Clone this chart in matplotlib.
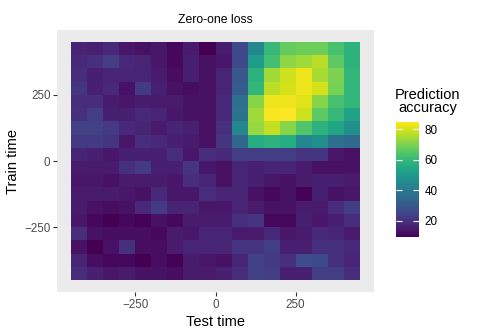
import numpy as np
import matplotlib
matplotlib.use('Agg')
import matplotlib.pyplot as plt

plt.rcParams['font.family'] = ['Liberation Sans', 'DejaVu Sans']

# tile centres (ms)
test_time = [-425, -375, -325, -275, -225, -175, -125, -75, -25,
             25, 75, 125, 175, 225, 275, 325, 375, 425]
train_time = [425, 375, 325, 275, 225, 175, 125, 75, 25,
              -25, -75, -125, -175, -225, -275, -325, -375, -425]

# prediction accuracy, one row per train time (top row first)
accuracy = [
    [17, 16, 18, 14, 13, 14, 11, 15, 9.5, 15, 26, 44, 60, 67, 68, 68, 63, 58],
    [18, 20, 23, 18, 17, 14, 11, 16, 13, 14, 26, 51, 62, 72, 74, 77, 66, 58],
    [19, 16, 17, 17, 17, 15, 12, 16, 13, 17, 30, 58, 74, 79, 83, 75, 70, 59],
    [21, 16, 18, 13, 22, 16, 13, 12, 13, 17, 31, 59, 77, 80, 83, 80, 69, 59],
    [19, 19, 15, 14, 15, 15, 15, 13, 13, 18, 37, 71, 83, 83, 81, 71, 63, 59],
    [20, 23, 16, 16, 18, 17, 14, 13, 13, 18, 38, 74, 84, 84.8, 79, 66, 60, 53],
    [24, 24, 22, 18, 17, 15, 17, 16, 13, 20, 44, 73, 78, 71, 64, 58, 54, 47],
    [22, 22, 21, 14, 19, 18, 16, 15, 13, 21, 34, 56, 58, 56, 44, 47, 37, 35],
    [17, 16, 14, 16, 16, 16, 19, 14, 19, 18, 23, 23, 23, 23, 21, 21, 14, 13],
    [15, 15, 15, 20, 22, 16, 16, 21, 14, 13, 17, 16, 17, 17, 15, 13, 13, 13],
    [14, 14, 13, 15, 15, 15, 14, 19, 17, 13, 17, 16, 14, 13, 15, 16, 16, 15],
    [15, 15, 15, 14, 13, 18, 14, 14, 19, 17, 17, 13, 11, 13, 10, 16, 13, 14],
    [15, 13, 12, 13, 18, 22, 17, 17, 14, 14, 17, 15, 13, 13, 15, 15, 19, 23],
    [14, 11, 9.5, 11, 10, 13, 11, 15, 15, 15, 20, 21, 11, 11, 16, 14, 16, 19],
    [19, 13, 12, 12, 12, 11, 15, 14, 17, 17, 15, 15, 18, 14, 15, 18, 17, 15],
    [13, 9.5, 13, 20, 12, 12, 15, 17, 17, 17, 21, 21, 23, 16, 16, 20, 20, 18],
    [17, 12, 11, 11, 9.5, 12, 10, 15, 14, 13, 17, 24, 22, 20, 27, 26, 20, 17],
    [19, 16, 14, 15, 13, 13, 12, 15, 15, 16, 19, 24, 23, 16, 16, 23, 23, 19],
]

x = np.array(test_time, dtype=float)
y = np.array(train_time, dtype=float)
z = np.array(accuracy, dtype=float)

# tile edges from the centres
dx = np.diff(x).mean()
dy = np.diff(y).mean()
x_edges = np.append(x - dx / 2, x[-1] + dx / 2)
y_edges = np.append(y - dy / 2, y[-1] + dy / 2)

fig = plt.figure(figsize=(4.8, 3.36), dpi=100)
ax = fig.add_axes([57 / 480, 44 / 336, 317 / 480, 262 / 336])
ax.set_facecolor('#EBEBEB')

mesh = ax.pcolormesh(x_edges, y_edges, z, cmap='viridis',
                     vmin=z.min(), vmax=z.max(), shading='flat')

# ggplot style 5% expansion
xr = x_edges.max() - x_edges.min()
yr = abs(y_edges.max() - y_edges.min())
ax.set_xlim(x_edges.min() - 0.05 * xr, x_edges.max() + 0.05 * xr)
ax.set_ylim(min(y_edges) - 0.05 * yr, max(y_edges) + 0.05 * yr)

ax.set_xticks([-250, 0, 250])
ax.set_yticks([-250, 0, 250])
ax.tick_params(length=2.7, width=0.8, color='#333333', labelcolor='#4D4D4D',
               labelsize=8.4, pad=2)
for s in ax.spines.values():
    s.set_visible(False)

ax.set_xlabel('Test time', fontsize=10.5, labelpad=3)
ax.set_ylabel('Train time', fontsize=10.5, labelpad=3)
ax.set_title('Zero-one loss', fontsize=8.8, pad=5)

cax = fig.add_axes([396 / 480, 99 / 336, 23 / 480, 115 / 336])
cb = fig.colorbar(mesh, cax=cax)
cb.outline.set_visible(False)
cb.set_ticks([20, 40, 60, 80])
cax.tick_params(direction='in', length=4, width=0.8, color='white',
                left=True, right=True, labelsize=8.4, labelcolor='black', pad=4)

fig.text(428 / 480, (336 - 115) / 336, 'Prediction\naccuracy', ha='center',
         va='bottom', fontsize=10.5, linespacing=0.95)

fig.savefig('out.png', dpi=100)
